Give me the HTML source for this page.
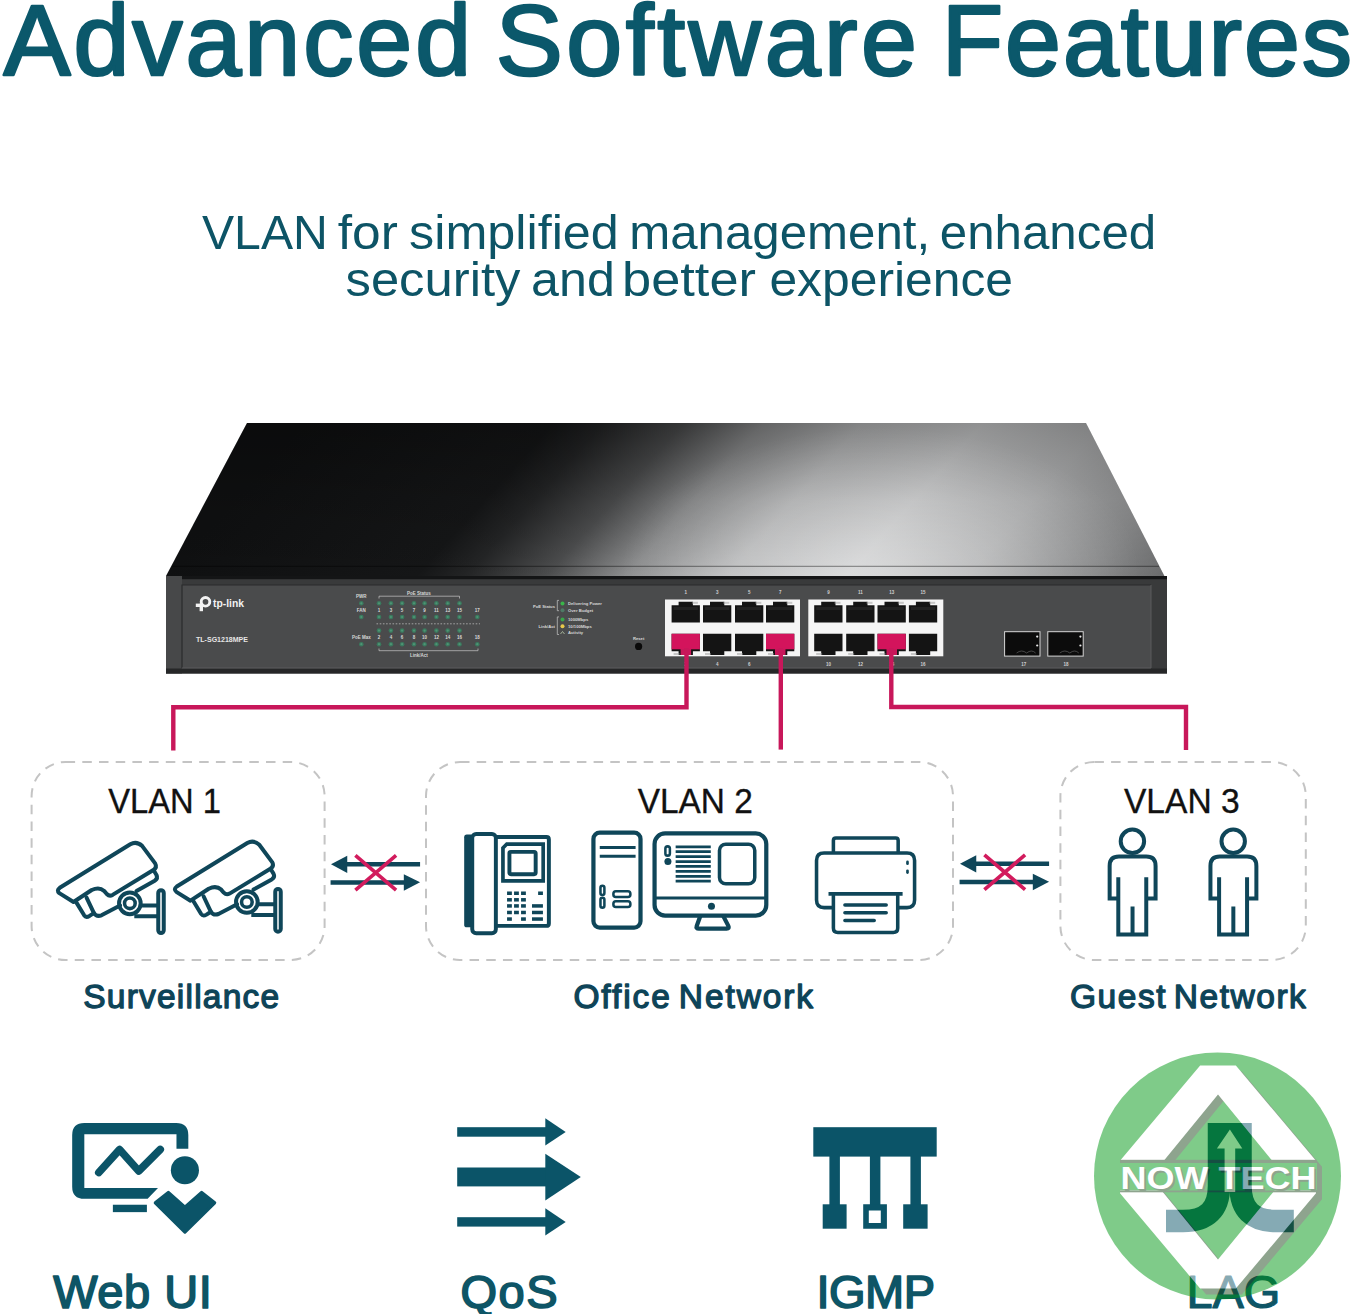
<!DOCTYPE html>
<html><head><meta charset="utf-8">
<style>
html,body{margin:0;padding:0;background:#fff;width:1352px;height:1314px;overflow:hidden}
svg{position:absolute;left:0;top:0;display:block}
text{font-family:"Liberation Sans",sans-serif}
</style></head>
<body>
<svg width="1352" height="1314" viewBox="0 0 1352 1314">
<defs>
  <linearGradient id="lidH" gradientUnits="userSpaceOnUse" x1="166" y1="576" x2="718.5" y2="1073.2">
    <stop offset="0" stop-color="#0f1011"/>
    <stop offset="0.25" stop-color="#151617"/>
    <stop offset="0.30" stop-color="#242526"/>
    <stop offset="0.38" stop-color="#4c4d4e"/>
    <stop offset="0.46" stop-color="#8e8f90"/>
    <stop offset="0.56" stop-color="#bbbcbd"/>
    <stop offset="0.68" stop-color="#cdcecf"/>
    <stop offset="0.80" stop-color="#b4b5b6"/>
    <stop offset="0.92" stop-color="#8a8b8c"/>
    <stop offset="1" stop-color="#6a6b6c"/>
  </linearGradient>
  <linearGradient id="lidV" x1="0" y1="0" x2="0" y2="1">
    <stop offset="0" stop-color="#000" stop-opacity="0.3"/>
    <stop offset="0.5" stop-color="#000" stop-opacity="0.1"/>
    <stop offset="1" stop-color="#000" stop-opacity="0"/>
  </linearGradient>
  <linearGradient id="lip" x1="0" y1="0" x2="1" y2="0">
    <stop offset="0" stop-color="#111213"/>
    <stop offset="0.38" stop-color="#161718"/>
    <stop offset="0.5" stop-color="#3c3d3e"/>
    <stop offset="0.7" stop-color="#8a8b8c"/>
    <stop offset="0.85" stop-color="#838485"/>
    <stop offset="1" stop-color="#5c5d5e"/>
  </linearGradient>
  <radialGradient id="lidR" gradientUnits="userSpaceOnUse" cx="880" cy="570" r="260" gradientTransform="translate(880,570) scale(1,0.55) translate(-880,-570)">
    <stop offset="0" stop-color="#fff" stop-opacity="0.32"/>
    <stop offset="0.6" stop-color="#fff" stop-opacity="0.12"/>
    <stop offset="1" stop-color="#fff" stop-opacity="0"/>
  </radialGradient>
</defs>

<!-- Title -->
<text id="t_w1" x="3.4" y="74.6" font-size="100.5" font-weight="400" stroke="#0b586b" stroke-width="2.6" stroke-linejoin="round" fill="#0b586b" lengthAdjust="spacing" textLength="467.7">Advanced</text>
<text id="t_w2" x="495.7" y="74.6" font-size="100.5" font-weight="400" stroke="#0b586b" stroke-width="2.6" stroke-linejoin="round" fill="#0b586b" lengthAdjust="spacing" textLength="421.3">Software</text>
<text id="t_w3" x="941.7" y="74.6" font-size="100.5" font-weight="400" stroke="#0b586b" stroke-width="2.6" stroke-linejoin="round" fill="#0b586b" lengthAdjust="spacing" textLength="410.3">Features</text>
<text id="t_s1" x="202.0" y="248.5" font-size="48.5" fill="#0d5466" lengthAdjust="spacingAndGlyphs" textLength="125.8">VLAN</text>
<text id="t_s2" x="337.7" y="248.5" font-size="48.5" fill="#0d5466" lengthAdjust="spacingAndGlyphs" textLength="60.1">for</text>
<text id="t_s3" x="409.1" y="248.5" font-size="48.5" fill="#0d5466" lengthAdjust="spacingAndGlyphs" textLength="209.7">simplified</text>
<text id="t_s4" x="629.2" y="248.5" font-size="48.5" fill="#0d5466" lengthAdjust="spacingAndGlyphs" textLength="301.0">management,</text>
<text id="t_s5" x="939.8" y="248.5" font-size="48.5" fill="#0d5466" lengthAdjust="spacingAndGlyphs" textLength="216.4">enhanced</text>
<text id="t_s6" x="345.5" y="296" font-size="48.5" fill="#0d5466" lengthAdjust="spacingAndGlyphs" textLength="174.9">security</text>
<text id="t_s7" x="531.1" y="296" font-size="48.5" fill="#0d5466" lengthAdjust="spacingAndGlyphs" textLength="83.7">and</text>
<text id="t_s8" x="622.0" y="296" font-size="48.5" fill="#0d5466" lengthAdjust="spacingAndGlyphs" textLength="134.0">better</text>
<text id="t_s9" x="769.4" y="296" font-size="48.5" fill="#0d5466" lengthAdjust="spacingAndGlyphs" textLength="243.7">experience</text>

<!-- Switch -->
<g id="switch">
  <polygon points="247,423 1086,423 1166,579 166,576" fill="url(#lidH)"/>
  <polygon points="247,423 1086,423 1166,579 166,576" fill="url(#lidV)"/>
  <polygon points="247,423 1086,423 1166,579 166,576" fill="url(#lidR)"/>
  <line x1="172" y1="566.3" x2="1159" y2="566.3" stroke="#000" stroke-opacity="0.45" stroke-width="1"/>
  <rect x="166" y="576" width="1001" height="97.5" fill="#393a3b"/>
  <rect x="166" y="576" width="1001" height="3.2" fill="#141516"/>
  <rect x="166" y="576" width="16" height="97.5" fill="#474849"/>
  <rect x="166" y="668.5" width="1001" height="5" fill="#262728"/>
  <rect x="182" y="585" width="969" height="83" fill="#4a4b4c"/>
  <path d="M182 668 V585 H1151" fill="none" stroke="#2a2b2c" stroke-width="1.2"/>
  <path d="M182 668 H1151 V585" fill="none" stroke="#5a5b5c" stroke-width="1"/>
  <g fill="#f2f2f2">
    <circle cx="205.5" cy="601.8" r="4.3" fill="none" stroke="#f2f2f2" stroke-width="2.9"/>
    <rect x="195.8" y="603.6" width="7.5" height="3.4"/>
    <rect x="199.6" y="603.6" width="3.4" height="7.6"/>
    <text x="213" y="606.8" font-size="10.5" font-weight="700" textLength="31" lengthAdjust="spacingAndGlyphs">tp-link</text>
    <text x="196" y="642" font-size="7" font-weight="700" fill="#e6e6e6" textLength="52" lengthAdjust="spacingAndGlyphs">TL-SG1218MPE</text>
  </g>
  <g fill="#3a7a5e"><circle cx="361.3" cy="603.3" r="2.3"/><circle cx="361.3" cy="617" r="2.3"/><circle cx="361.3" cy="644.2" r="2.3"/><circle cx="379" cy="603.3" r="2.3"/><circle cx="379" cy="617" r="2.3"/><circle cx="379" cy="630.6" r="2.3"/><circle cx="379" cy="644.2" r="2.3"/><circle cx="390.9" cy="603.3" r="2.3"/><circle cx="390.9" cy="617" r="2.3"/><circle cx="390.9" cy="630.6" r="2.3"/><circle cx="390.9" cy="644.2" r="2.3"/><circle cx="402.1" cy="603.3" r="2.3"/><circle cx="402.1" cy="617" r="2.3"/><circle cx="402.1" cy="630.6" r="2.3"/><circle cx="402.1" cy="644.2" r="2.3"/><circle cx="414" cy="603.3" r="2.3"/><circle cx="414" cy="617" r="2.3"/><circle cx="414" cy="630.6" r="2.3"/><circle cx="414" cy="644.2" r="2.3"/><circle cx="424.6" cy="603.3" r="2.3"/><circle cx="424.6" cy="617" r="2.3"/><circle cx="424.6" cy="630.6" r="2.3"/><circle cx="424.6" cy="644.2" r="2.3"/><circle cx="436.4" cy="603.3" r="2.3"/><circle cx="436.4" cy="617" r="2.3"/><circle cx="436.4" cy="630.6" r="2.3"/><circle cx="436.4" cy="644.2" r="2.3"/><circle cx="447.7" cy="603.3" r="2.3"/><circle cx="447.7" cy="617" r="2.3"/><circle cx="447.7" cy="630.6" r="2.3"/><circle cx="447.7" cy="644.2" r="2.3"/><circle cx="459.5" cy="603.3" r="2.3"/><circle cx="459.5" cy="617" r="2.3"/><circle cx="459.5" cy="630.6" r="2.3"/><circle cx="459.5" cy="644.2" r="2.3"/><circle cx="477.3" cy="617" r="2.3"/><circle cx="477.3" cy="644.2" r="2.3"/></g>
  <g fill="#5fa585" opacity="0.6"><circle cx="361.3" cy="603.3" r="1.1"/><circle cx="361.3" cy="617" r="1.1"/><circle cx="361.3" cy="644.2" r="1.1"/><circle cx="379" cy="603.3" r="1.1"/><circle cx="379" cy="617" r="1.1"/><circle cx="379" cy="630.6" r="1.1"/><circle cx="379" cy="644.2" r="1.1"/><circle cx="390.9" cy="603.3" r="1.1"/><circle cx="390.9" cy="617" r="1.1"/><circle cx="390.9" cy="630.6" r="1.1"/><circle cx="390.9" cy="644.2" r="1.1"/><circle cx="402.1" cy="603.3" r="1.1"/><circle cx="402.1" cy="617" r="1.1"/><circle cx="402.1" cy="630.6" r="1.1"/><circle cx="402.1" cy="644.2" r="1.1"/><circle cx="414" cy="603.3" r="1.1"/><circle cx="414" cy="617" r="1.1"/><circle cx="414" cy="630.6" r="1.1"/><circle cx="414" cy="644.2" r="1.1"/><circle cx="424.6" cy="603.3" r="1.1"/><circle cx="424.6" cy="617" r="1.1"/><circle cx="424.6" cy="630.6" r="1.1"/><circle cx="424.6" cy="644.2" r="1.1"/><circle cx="436.4" cy="603.3" r="1.1"/><circle cx="436.4" cy="617" r="1.1"/><circle cx="436.4" cy="630.6" r="1.1"/><circle cx="436.4" cy="644.2" r="1.1"/><circle cx="447.7" cy="603.3" r="1.1"/><circle cx="447.7" cy="617" r="1.1"/><circle cx="447.7" cy="630.6" r="1.1"/><circle cx="447.7" cy="644.2" r="1.1"/><circle cx="459.5" cy="603.3" r="1.1"/><circle cx="459.5" cy="617" r="1.1"/><circle cx="459.5" cy="630.6" r="1.1"/><circle cx="459.5" cy="644.2" r="1.1"/><circle cx="477.3" cy="617" r="1.1"/><circle cx="477.3" cy="644.2" r="1.1"/></g>
  <g fill="#d8d8d8" font-weight="700"><text x="361.3" y="598" font-size="4.5" text-anchor="middle">PWR</text><text x="361.3" y="611.8" font-size="4.5" text-anchor="middle">FAN</text><text x="361.3" y="639" font-size="4.5" text-anchor="middle">PoE Max</text><text x="419" y="594.6" font-size="4.5" text-anchor="middle">PoE Status</text><text x="419" y="657" font-size="4.5" text-anchor="middle">Link/Act</text><text x="379" y="611.8" font-size="4.5" text-anchor="middle">1</text><text x="390.9" y="611.8" font-size="4.5" text-anchor="middle">3</text><text x="402.1" y="611.8" font-size="4.5" text-anchor="middle">5</text><text x="414" y="611.8" font-size="4.5" text-anchor="middle">7</text><text x="424.6" y="611.8" font-size="4.5" text-anchor="middle">9</text><text x="436.4" y="611.8" font-size="4.5" text-anchor="middle">11</text><text x="447.7" y="611.8" font-size="4.5" text-anchor="middle">13</text><text x="459.5" y="611.8" font-size="4.5" text-anchor="middle">15</text><text x="379" y="639" font-size="4.5" text-anchor="middle">2</text><text x="390.9" y="639" font-size="4.5" text-anchor="middle">4</text><text x="402.1" y="639" font-size="4.5" text-anchor="middle">6</text><text x="414" y="639" font-size="4.5" text-anchor="middle">8</text><text x="424.6" y="639" font-size="4.5" text-anchor="middle">10</text><text x="436.4" y="639" font-size="4.5" text-anchor="middle">12</text><text x="447.7" y="639" font-size="4.5" text-anchor="middle">14</text><text x="459.5" y="639" font-size="4.5" text-anchor="middle">16</text><text x="477.3" y="611.8" font-size="4.5" text-anchor="middle">17</text><text x="477.3" y="639" font-size="4.5" text-anchor="middle">18</text></g>
  <g fill="none" stroke="#c8c8c8" stroke-width="0.7">
    <path d="M379 598.5 V596.2 H459.5 V598.5"/>
    <path d="M379 648.5 V650.7 H478 V648.5"/>
    <path d="M376.5 623.8 H480" stroke-dasharray="1.6 1.6"/>
  </g>
  <g fill="#d8d8d8" font-weight="700" font-size="4.2">
    <text x="555" y="607.5" text-anchor="end">PoE Status</text>
    <text x="555" y="627.8" text-anchor="end">Link/Act</text>
    <text x="568" y="605">Delivering Power</text>
    <text x="568" y="611.7">Over Budget</text>
    <text x="568" y="621">1000Mbps</text>
    <text x="568" y="627.7">10/100Mbps</text>
    <text x="568" y="634">Activity</text>
    <text x="638.6" y="639.5" text-anchor="middle">Reset</text>
  </g>
  <path d="M559 600.4 H557.3 V610.7 H559 M559 616.9 H557.3 V634.5 H559" fill="none" stroke="#c8c8c8" stroke-width="0.7"/>
  <circle cx="562.5" cy="603.5" r="2" fill="#39b54a"/>
  <circle cx="562.5" cy="610.2" r="2" fill="#4e7a66"/>
  <circle cx="562.5" cy="619.5" r="2" fill="#39a54a"/>
  <circle cx="562.5" cy="626.2" r="2" fill="#e8c84a"/>
  <path d="M560.5 634 L562.5 631.5 L564.5 634" fill="none" stroke="#b8c8a8" stroke-width="0.8"/>
  <circle cx="638.6" cy="646.4" r="3.6" fill="#0a0a0a"/>
  <rect x="665" y="599.5" width="135" height="56.8" fill="#f5f5f5"/>
  <path d="M671.6 605.2 H678.6 V601.8 H692.9 V605.2 H699.9 V622.6 H671.6 Z" fill="#141414"/>
  <rect x="673.6" y="607" width="24.3" height="3" fill="#2a2a2a" opacity="0.6"/>
  <path d="M671.6 633.8 H699.9 V651.2 H692.9 V655 H678.6 V651.2 H671.6 Z" fill="#141414"/>
  <rect x="691.9" y="601.8" width="6" height="2" fill="#9a9a9a" opacity="0.5"/>
  <rect x="673.6" y="653" width="6" height="2" fill="#9a9a9a" opacity="0.5"/>
  <path d="M703 605.2 H710 V601.8 H724.3 V605.2 H731.3 V622.6 H703 Z" fill="#141414"/>
  <rect x="705" y="607" width="24.3" height="3" fill="#2a2a2a" opacity="0.6"/>
  <path d="M703 633.8 H731.3 V651.2 H724.3 V655 H710 V651.2 H703 Z" fill="#141414"/>
  <rect x="723.3" y="601.8" width="6" height="2" fill="#9a9a9a" opacity="0.5"/>
  <rect x="705" y="653" width="6" height="2" fill="#9a9a9a" opacity="0.5"/>
  <path d="M735 605.2 H742 V601.8 H756.3 V605.2 H763.3 V622.6 H735 Z" fill="#141414"/>
  <rect x="737" y="607" width="24.3" height="3" fill="#2a2a2a" opacity="0.6"/>
  <path d="M735 633.8 H763.3 V651.2 H756.3 V655 H742 V651.2 H735 Z" fill="#141414"/>
  <rect x="755.3" y="601.8" width="6" height="2" fill="#9a9a9a" opacity="0.5"/>
  <rect x="737" y="653" width="6" height="2" fill="#9a9a9a" opacity="0.5"/>
  <path d="M766 605.2 H773 V601.8 H787.3 V605.2 H794.3 V622.6 H766 Z" fill="#141414"/>
  <rect x="768" y="607" width="24.3" height="3" fill="#2a2a2a" opacity="0.6"/>
  <path d="M766 633.8 H794.3 V651.2 H787.3 V655 H773 V651.2 H766 Z" fill="#141414"/>
  <rect x="786.3" y="601.8" width="6" height="2" fill="#9a9a9a" opacity="0.5"/>
  <rect x="768" y="653" width="6" height="2" fill="#9a9a9a" opacity="0.5"/>
  <rect x="808.3" y="599.5" width="135" height="56.8" fill="#f5f5f5"/>
  <path d="M814.2 605.2 H821.2 V601.8 H835.5 V605.2 H842.5 V622.6 H814.2 Z" fill="#141414"/>
  <rect x="816.2" y="607" width="24.3" height="3" fill="#2a2a2a" opacity="0.6"/>
  <path d="M814.2 633.8 H842.5 V651.2 H835.5 V655 H821.2 V651.2 H814.2 Z" fill="#141414"/>
  <rect x="834.5" y="601.8" width="6" height="2" fill="#9a9a9a" opacity="0.5"/>
  <rect x="816.2" y="653" width="6" height="2" fill="#9a9a9a" opacity="0.5"/>
  <path d="M846.2 605.2 H853.2 V601.8 H867.5 V605.2 H874.5 V622.6 H846.2 Z" fill="#141414"/>
  <rect x="848.2" y="607" width="24.3" height="3" fill="#2a2a2a" opacity="0.6"/>
  <path d="M846.2 633.8 H874.5 V651.2 H867.5 V655 H853.2 V651.2 H846.2 Z" fill="#141414"/>
  <rect x="866.5" y="601.8" width="6" height="2" fill="#9a9a9a" opacity="0.5"/>
  <rect x="848.2" y="653" width="6" height="2" fill="#9a9a9a" opacity="0.5"/>
  <path d="M877.5 605.2 H884.5 V601.8 H898.8 V605.2 H905.8 V622.6 H877.5 Z" fill="#141414"/>
  <rect x="879.5" y="607" width="24.3" height="3" fill="#2a2a2a" opacity="0.6"/>
  <path d="M877.5 633.8 H905.8 V651.2 H898.8 V655 H884.5 V651.2 H877.5 Z" fill="#141414"/>
  <rect x="897.8" y="601.8" width="6" height="2" fill="#9a9a9a" opacity="0.5"/>
  <rect x="879.5" y="653" width="6" height="2" fill="#9a9a9a" opacity="0.5"/>
  <path d="M908.9 605.2 H915.9 V601.8 H930.1999999999999 V605.2 H937.1999999999999 V622.6 H908.9 Z" fill="#141414"/>
  <rect x="910.9" y="607" width="24.3" height="3" fill="#2a2a2a" opacity="0.6"/>
  <path d="M908.9 633.8 H937.1999999999999 V651.2 H930.1999999999999 V655 H915.9 V651.2 H908.9 Z" fill="#141414"/>
  <rect x="929.1999999999999" y="601.8" width="6" height="2" fill="#9a9a9a" opacity="0.5"/>
  <rect x="910.9" y="653" width="6" height="2" fill="#9a9a9a" opacity="0.5"/>
  <rect x="671.6" y="633.8" width="28.3" height="15.5" fill="#d3145c"/>
  <rect x="680.6" y="649" width="10.5" height="6" fill="#c8175a"/>
  <rect x="766" y="633.8" width="28.3" height="15.5" fill="#d3145c"/>
  <rect x="775" y="649" width="10.5" height="6" fill="#c8175a"/>
  <rect x="877.5" y="633.8" width="28.3" height="15.5" fill="#d3145c"/>
  <rect x="886.5" y="649" width="10.5" height="6" fill="#c8175a"/>
  <g fill="#d0d0d0" font-weight="700"><text x="685.8000000000001" y="594" font-size="4.5" text-anchor="middle">1</text><text x="685.8000000000001" y="666" font-size="4.5" text-anchor="middle">2</text><text x="717.2" y="594" font-size="4.5" text-anchor="middle">3</text><text x="717.2" y="666" font-size="4.5" text-anchor="middle">4</text><text x="749.2" y="594" font-size="4.5" text-anchor="middle">5</text><text x="749.2" y="666" font-size="4.5" text-anchor="middle">6</text><text x="780.2" y="594" font-size="4.5" text-anchor="middle">7</text><text x="828.4000000000001" y="594" font-size="4.5" text-anchor="middle">9</text><text x="828.4000000000001" y="666" font-size="4.5" text-anchor="middle">10</text><text x="860.4000000000001" y="594" font-size="4.5" text-anchor="middle">11</text><text x="860.4000000000001" y="666" font-size="4.5" text-anchor="middle">12</text><text x="891.7" y="594" font-size="4.5" text-anchor="middle">13</text><text x="891.7" y="666" font-size="4.5" text-anchor="middle">14</text><text x="923.1" y="594" font-size="4.5" text-anchor="middle">15</text><text x="923.1" y="666" font-size="4.5" text-anchor="middle">16</text><text x="1023.8" y="666" font-size="4.5" text-anchor="middle">17</text><text x="1066" y="666" font-size="4.5" text-anchor="middle">18</text></g>
  <rect x="1004.6" y="631.7" width="35.4" height="24.4" fill="#0c0c0c" stroke="#d8d8d8" stroke-width="1"/>
  <path d="M1016.6 653 Q1021.6 649 1026.6 653 Q1031.6 649 1035.6 653" fill="none" stroke="#555" stroke-width="0.8"/>
  <circle cx="1037.2" cy="636.6" r="1.1" fill="#e8e8e8"/><circle cx="1037.2" cy="645.5" r="1.1" fill="#e8e8e8"/>
  <rect x="1047.8" y="631.7" width="35.4" height="24.4" fill="#0c0c0c" stroke="#d8d8d8" stroke-width="1"/>
  <path d="M1059.8 653 Q1064.8 649 1069.8 653 Q1074.8 649 1078.8 653" fill="none" stroke="#555" stroke-width="0.8"/>
  <circle cx="1080.3999999999999" cy="636.6" r="1.1" fill="#e8e8e8"/><circle cx="1080.3999999999999" cy="645.5" r="1.1" fill="#e8e8e8"/>
</g>

<!-- cables -->
<g fill="none" stroke="#c8175a" stroke-width="4.4">
  <polyline points="686.5,648 686.5,707.3 173.3,707.3 173.3,750.5"/>
  <polyline points="780.8,648 780.8,749.6"/>
  <polyline points="891.3,648 891.3,707 1186,707 1186,750"/>
</g>

<!-- dashed boxes -->
<g fill="none" stroke="#c4c4c4" stroke-width="2" stroke-dasharray="9.5 7.2">
  <rect x="31.6" y="762" width="293" height="198" rx="34"/>
  <rect x="426" y="762" width="527" height="198" rx="34"/>
  <rect x="1060.4" y="762" width="245.4" height="198" rx="34"/>
</g>


<!-- ===== VLAN icons ===== -->
<g id="icons" fill="none" stroke="#0f4659" stroke-linecap="round" stroke-linejoin="round">
  <!-- camera 1 -->
  <g id="cam" transform="translate(50,835) scale(0.08873)" stroke-width="45">
    <path d="M265 755 L105 655 Q70 625 110 595 L905 105 Q975 65 1040 125 L1185 320 Q1210 365 1165 395 L705 675 Q670 695 640 665 L610 630 Q555 580 470 620 Z"/>
    <path d="M1170 400 L1200 450 Q1220 490 1180 515 L975 630"/>
    <path d="M300 765 L385 905 Q405 935 445 912 L495 880 L412 705"/>
    <path d="M495 880 Q525 925 580 905 L790 795"/>
    <circle cx="900" cy="770" r="122"/>
    <circle cx="900" cy="770" r="60" stroke-width="40"/>
    <path d="M1030 795 L1215 795 M950 915 L1215 915" stroke-linecap="butt"/>
    <rect x="1220" y="622" width="62" height="483" rx="31"/>
  </g>
  <g transform="translate(117,-1.3)">
    <use href="#cam"/>
  </g>

  <!-- phone -->
  <g transform="translate(455,825) scale(0.08749)" stroke-width="45" stroke-linecap="butt" stroke-linejoin="miter">
    <rect x="105" y="110" width="105" height="1060" rx="30" fill="#0f4659" stroke="none"/>
    <rect x="197" y="102" width="270" height="1135" rx="45"/>
    <path d="M467 138 L1045 138 Q1073 138 1073 166 L1073 1125 Q1073 1153 1045 1153 L467 1153"/>
    <path d="M592 218 L1008 218 L1008 638 L548 638 L548 262 Z" stroke-width="42"/>
    <rect x="622" y="307" width="300" height="255" rx="18"/>
    <g fill="#0f4659" stroke="none">
      <rect x="595" y="760" width="55" height="40"/><rect x="675" y="760" width="55" height="40"/><rect x="755" y="760" width="55" height="40"/><rect x="950" y="760" width="55" height="40"/>
      <rect x="595" y="835" width="55" height="40"/><rect x="675" y="835" width="55" height="40"/><rect x="755" y="835" width="55" height="40"/>
      <rect x="595" y="905" width="55" height="40"/><rect x="675" y="905" width="55" height="40"/><rect x="755" y="905" width="55" height="40"/><rect x="880" y="905" width="125" height="40"/>
      <rect x="595" y="980" width="55" height="40"/><rect x="675" y="980" width="55" height="40"/><rect x="755" y="980" width="55" height="40"/><rect x="880" y="980" width="125" height="40"/>
      <rect x="595" y="1055" width="55" height="40"/><rect x="755" y="1055" width="55" height="40"/><rect x="880" y="1055" width="125" height="40"/>
    </g>
  </g>

  <!-- computer -->
  <g transform="translate(585,825) scale(0.14053)" stroke-width="30">
    <rect x="60" y="55" width="335" height="675" rx="45"/>
    <path d="M105 160 H360 M105 222 H360" stroke-width="22" stroke-linecap="butt"/>
    <rect x="110" y="432" width="28" height="66" rx="14" stroke-width="18"/>
    <rect x="110" y="517" width="28" height="71" rx="14" stroke-width="18"/>
    <rect x="202" y="472" width="121" height="41" rx="18" stroke-width="18"/>
    <rect x="202" y="542" width="121" height="41" rx="18" stroke-width="18"/>
    <rect x="495" y="60" width="795" height="585" rx="75"/>
    <path d="M495 520 H1290" stroke-width="22"/>
    <circle cx="900" cy="578" r="25" fill="#0f4659" stroke="none"/>
    <path d="M820 650 L795 718 Q788 738 810 738 L1008 738 Q1030 738 1020 718 L985 650"/>
    <rect x="572" y="152" width="32" height="66" rx="16" stroke-width="18"/>
    <circle cx="590" cy="260" r="25" fill="#0f4659" stroke="none"/>
    <path d="M645 155 H895 M645 190 H895 M645 225 H895 M645 260 H895 M645 295 H895 M645 330 H895 M645 365 H895 M645 400 H895" stroke-width="20" stroke-linecap="butt"/>
    <rect x="957" y="137" width="251" height="281" rx="45" stroke-width="25"/>
  </g>

  <!-- printer -->
  <g transform="translate(805,830) scale(0.08873)" stroke-width="40">
    <path d="M320 245 L320 118 Q320 90 348 90 L1022 90 Q1050 90 1050 118 L1050 245"/>
    <path d="M300 875 L215 875 Q130 875 130 790 L130 345 Q130 260 215 260 L1150 260 Q1235 260 1235 345 L1235 790 Q1235 875 1150 875 L1045 875"/>
    <path d="M265 720 H1100" stroke-linecap="butt"/>
    <path d="M320 740 L320 1105 Q320 1155 370 1155 L995 1155 Q1045 1155 1045 1105 L1045 740"/>
    <path d="M450 845 H915 M450 932 H915 M450 1020 H780"/>
    <rect x="1140" y="345" width="30" height="50" rx="15" fill="#0f4659" stroke="none"/>
    <rect x="1140" y="445" width="30" height="50" rx="15" fill="#0f4659" stroke="none"/>
  </g>

  <!-- people -->
  <g id="person" transform="translate(1095,820) scale(0.13314)" stroke-width="30" stroke-linecap="butt" stroke-linejoin="miter">
    <circle cx="281" cy="160" r="88"/>
    <path d="M175 430 L175 860 L385 860 L385 430 M175 590 L110 590 L110 345 Q110 275 180 275 L385 275 Q455 275 455 345 L455 590 L385 590 M282 650 L282 860"/>
  </g>
  <g transform="translate(100.8,0)"><use href="#person"/></g>

  <!-- x arrows -->
  <g id="xarr" transform="translate(320,840) scale(0.08137)">
    <path d="M320 297 H1230 M130 522 H1040" stroke-width="55" stroke-linecap="butt"/>
    <polygon points="135,297 335,195 335,405" fill="#0f4659" stroke="none"/>
    <polygon points="1230,520 1030,420 1030,625" fill="#0f4659" stroke="none"/>
    <path d="M435 190 L935 615 M935 190 L435 615" stroke="#d21b5d" stroke-width="45" stroke-linecap="butt"/>
  </g>
  <g transform="translate(629,-0.5)"><use href="#xarr"/></g>
</g>

<!-- ===== bottom feature icons ===== -->
<g fill="#0b5468">
  <g transform="translate(50,1100) scale(0.14793)">
    <path d="M232 155 L853 155 Q935 155 935 237 L935 330 L855 330 L855 232 L232 232 L232 595 L730 595 L660 668 L232 668 Q150 668 150 586 L150 237 Q150 155 232 155 Z"/>
    <rect x="425" y="708" width="230" height="50"/>
    <polyline points="330,490 470,335 600,480 745,335" fill="none" stroke="#0b5468" stroke-width="52" stroke-linecap="round" stroke-linejoin="round"/>
    <circle cx="912" cy="475" r="95"/>
    <polygon points="712,695 800,625 912,725 1025,625 1113,695 912,893" stroke="#0b5468" stroke-width="22" stroke-linejoin="round"/>
  </g>
  <!-- QoS -->
  <rect x="457.2" y="1127.2" width="89" height="9.5"/>
  <polygon points="545.3,1118.3 565.7,1132 545.3,1145.6"/>
  <rect x="457.2" y="1167.5" width="89" height="18.9"/>
  <polygon points="545.3,1153.8 580.8,1177 545.3,1200.6"/>
  <rect x="457.2" y="1217.2" width="89" height="9.4"/>
  <polygon points="545.3,1208.3 565.7,1222 545.3,1235.5"/>
  <!-- IGMP -->
  <rect x="813.3" y="1127.2" width="123.4" height="29.4"/>
  <rect x="829.4" y="1156" width="10.5" height="49"/>
  <rect x="869.9" y="1156" width="10.5" height="49"/>
  <rect x="910.4" y="1156" width="10.5" height="49"/>
  <rect x="822.7" y="1204.3" width="23.9" height="24.4"/>
  <rect x="903.2" y="1204.3" width="24.4" height="24.4"/>
  <path d="M863.2 1204.3 H886.9 V1228.7 H863.2 Z M868.8 1210.4 V1223 H880.8 V1210.4 Z" fill-rule="evenodd"/>
  <!-- LAG icon -->
  <g fill="none" stroke="#0b5468" stroke-width="22.5" stroke-linecap="butt">
    <path d="M1166 1221 L1183 1221 Q1219 1221 1219 1186 L1219 1123"/>
    <path d="M1293.8 1221 L1276 1221 Q1240.5 1221 1240.5 1186 L1240.5 1123"/>
  </g>
  <path d="M1229.9 1129.5 L1242.3 1148.5 L1235.2 1148.5 L1235.2 1192 L1224.6 1192 L1224.6 1148.5 L1216.9 1148.5 Z" fill="#fff"/>
</g>


<!-- ===== watermark ===== -->
<text id="t_lag" x="1186.4" y="1307.6" font-size="47" font-weight="400" fill="#0e5566" stroke="#0e5566" stroke-width="1.2" stroke-linejoin="round" textLength="94.0" lengthAdjust="spacing">LAG</text>
<g id="wm" opacity="0.5">
  <circle cx="1217.5" cy="1176" r="123.5" fill="#019915"/>
  <path transform="translate(6,6)" fill="#1f4b1f" fill-rule="evenodd" d="M1200.15 1065.5 L1235.85 1065.5 L1316 1160.7 L1316 1193.3 L1235.85 1288.5 L1200.15 1288.5 L1120 1193.3 L1120 1160.7 Z M1218 1094.5 L1285.5 1177 L1218 1259.5 L1150.5 1177 Z"/>
  <path fill="#fff" fill-rule="evenodd" d="M1200.15 1065.5 L1235.85 1065.5 L1316 1160.7 L1316 1193.3 L1235.85 1288.5 L1200.15 1288.5 L1120 1193.3 L1120 1160.7 Z M1218 1094.5 L1285.5 1177 L1218 1259.5 L1150.5 1177 Z"/>
  <rect x="1120" y="1159.8" width="197" height="3.2" fill="#1f4b1f"/>
  <rect x="1120" y="1163" width="197" height="27.5" fill="#019915"/>
  <rect x="1120" y="1190.5" width="197" height="1.8" fill="#1f4b1f"/>
  <text x="1122.5" y="1191" font-size="32" font-weight="700" fill="#1f4b1f" textLength="196" lengthAdjust="spacingAndGlyphs">NOW TECH</text>
  <text x="1120.5" y="1189" font-size="32" font-weight="700" fill="#fff" textLength="196" lengthAdjust="spacingAndGlyphs">NOW TECH</text>
</g>
<!-- VLAN labels -->
<g font-size="32" fill="#111" stroke="#111" stroke-width="0.35">
  <text id="t_v1" x="108.2" y="812.8" textLength="112.8" lengthAdjust="spacingAndGlyphs" font-size="35.5">VLAN 1</text>
  <text id="t_v2" x="637.7" y="812.8" textLength="115.1" lengthAdjust="spacingAndGlyphs" font-size="35.5">VLAN 2</text>
  <text id="t_v3" x="1124" y="812.8" textLength="115.6" lengthAdjust="spacingAndGlyphs" font-size="35.5">VLAN 3</text>
</g>
<g font-size="33" font-weight="400" fill="#0e4458" stroke="#0e4458" style="word-spacing:-4px" stroke-width="1.3" stroke-linejoin="round">
  <text id="t_surv" x="83.3" y="1008.4" textLength="195.8" lengthAdjust="spacing" font-size="33.5">Surveillance</text>
  <text id="t_off" x="573.4" y="1008.4" textLength="239.7" lengthAdjust="spacing" font-size="33.5">Office Network</text>
  <text id="t_guest" x="1070" y="1008.3" textLength="235.8" lengthAdjust="spacing" font-size="33.5">Guest Network</text>
</g>
<g font-size="46" font-weight="400" fill="#0e5566" stroke="#0e5566" stroke-width="1.7" stroke-linejoin="round">
  <text id="t_web" x="53.3" y="1307.6" textLength="158.4" lengthAdjust="spacing" font-size="47">Web UI</text>
  <text id="t_qos" x="460.5" y="1307.6" textLength="97.1" lengthAdjust="spacing" font-size="47">QoS</text>
  <text id="t_igmp" x="816.5" y="1307.6" textLength="118.6" lengthAdjust="spacing" font-size="47">IGMP</text>
</g>
</svg>
</body></html>
